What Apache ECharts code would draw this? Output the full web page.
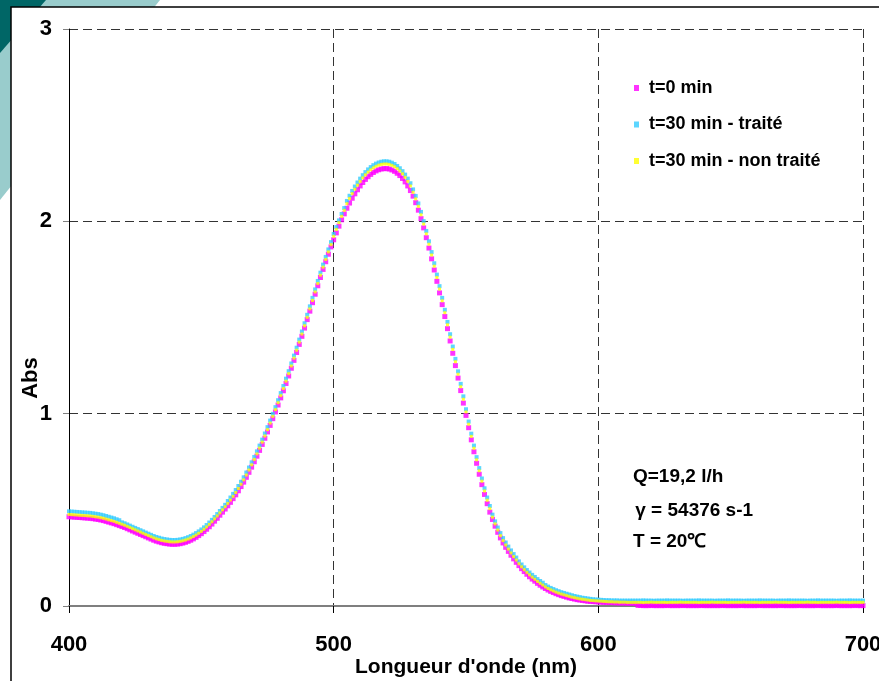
<!DOCTYPE html>
<html>
<head>
<meta charset="utf-8">
<title>Abs - Longueur d'onde</title>
<script src="https://cdn.jsdelivr.net/npm/echarts@6/dist/echarts.min.js"></script>
<style>
  html, body { margin: 0; padding: 0; background: #fff; }
  #spectre { width: 879px; height: 681px; }
</style>
</head>
<body>
<div id="spectre"></div>
<script>
// ---- data (1 nm step from 400 nm) ----
var lambdaStart = 400;
var serieNames = ['t=0 min', 't=30 min - traité', 't=30 min - non traité'];
var notes = ['Q=19,2 l/h', ' γ = 54376 s-1', 'T = 20℃'];

var absT0 = [
  // 400
  0.464,0.463,0.462,0.461,0.460,0.459,0.458,0.457,0.456,0.454,
  // 410
  0.452,0.450,0.447,0.444,0.440,0.436,0.432,0.428,0.423,0.418,
  // 420
  0.413,0.408,0.402,0.396,0.390,0.384,0.378,0.372,0.366,0.360,
  // 430
  0.354,0.348,0.342,0.337,0.333,0.329,0.326,0.324,0.322,0.321,
  // 440
  0.321,0.322,0.324,0.327,0.331,0.336,0.342,0.349,0.357,0.366,
  // 450
  0.376,0.387,0.399,0.412,0.426,0.441,0.456,0.472,0.488,0.504,
  // 460
  0.521,0.539,0.558,0.578,0.599,0.621,0.644,0.669,0.695,0.722,
  // 470
  0.750,0.779,0.809,0.840,0.872,0.905,0.939,0.974,1.009,1.045,
  // 480
  1.082,1.119,1.157,1.196,1.236,1.277,1.318,1.360,1.402,1.445,
  // 490
  1.489,1.533,1.577,1.621,1.665,1.708,1.750,1.790,1.829,1.867,
  // 500
  1.904,1.940,1.975,2.008,2.039,2.068,2.095,2.120,2.143,2.164,
  // 510
  2.184,2.202,2.218,2.232,2.244,2.254,2.262,2.268,2.272,2.274,
  // 520
  2.274,2.272,2.267,2.260,2.250,2.238,2.223,2.205,2.184,2.160,
  // 530
  2.131,2.097,2.058,2.014,1.966,1.915,1.861,1.805,1.747,1.688,
  // 540
  1.628,1.567,1.505,1.442,1.378,1.314,1.250,1.185,1.120,1.055,
  // 550
  0.991,0.927,0.864,0.802,0.742,0.685,0.631,0.580,0.532,0.488,
  // 560
  0.450,0.415,0.383,0.354,0.328,0.305,0.284,0.264,0.245,0.227,
  // 570
  0.210,0.194,0.179,0.165,0.152,0.140,0.129,0.118,0.108,0.099,
  // 580
  0.091,0.083,0.076,0.070,0.064,0.059,0.054,0.050,0.046,0.042,
  // 590
  0.039,0.036,0.033,0.031,0.029,0.027,0.025,0.024,0.023,0.022,
  // 600
  0.021,0.020,0.019,0.019,0.018,0.018,0.017,0.017,0.016,0.016,
  // 610-614
  0.016,0.015,0.015,0.015,0.014,
  // 615
  0.003,0.003,0.002,0.002,0.002,0.003,0.002,0.002,0.002,0.002,
  0.002,0.003,0.002,0.002,0.002,0.002,0.002,0.003,0.002,0.002,
  0.002,0.002,0.002,0.002,0.003,0.002,0.002,0.002,0.002,0.002,
  0.002,0.002,0.003,0.002,0.002,0.002,0.002,0.002,0.002,0.003,
  0.002,0.002,0.002,0.002,0.002,0.002,0.003,0.002,0.002,0.002,
  0.002,0.002,0.002,0.002,0.003,0.002,0.002,0.002,0.002,0.002,
  0.002,0.003,0.002,0.002,0.002,0.002,0.002,0.002,0.003,0.002,
  0.002,0.002,0.002,0.002,0.002,0.003,0.002,0.002,0.002,0.002,
  0.002,0.002,0.003,0.002,0.002,0.002
];

var absTraite = [
  // 400
  0.492,0.491,0.490,0.489,0.488,0.487,0.486,0.485,0.484,0.482,
  // 410
  0.480,0.478,0.475,0.472,0.468,0.464,0.460,0.456,0.451,0.446,
  // 420
  0.435,0.430,0.424,0.418,0.412,0.406,0.400,0.394,0.388,0.382,
  // 430
  0.376,0.370,0.364,0.359,0.355,0.351,0.348,0.346,0.344,0.343,
  // 440
  0.343,0.344,0.346,0.349,0.353,0.358,0.364,0.371,0.379,0.388,
  // 450
  0.398,0.409,0.421,0.434,0.448,0.463,0.478,0.494,0.510,0.526,
  // 460
  0.546,0.564,0.583,0.603,0.624,0.646,0.669,0.694,0.720,0.747,
  // 470
  0.775,0.804,0.834,0.865,0.897,0.930,0.964,0.999,1.034,1.070,
  // 480
  1.107,1.144,1.182,1.221,1.261,1.302,1.343,1.385,1.427,1.470,
  // 490
  1.514,1.558,1.602,1.646,1.690,1.733,1.775,1.815,1.854,1.892,
  // 500
  1.934,1.970,2.005,2.038,2.069,2.106,2.133,2.158,2.181,2.202,
  // 510
  2.222,2.240,2.256,2.270,2.282,2.292,2.300,2.306,2.310,2.312,
  // 520
  2.312,2.310,2.305,2.298,2.288,2.276,2.261,2.243,2.222,2.198,
  // 530
  2.166,2.132,2.093,2.049,2.001,1.950,1.896,1.840,1.782,1.723,
  // 540
  1.663,1.602,1.540,1.477,1.413,1.349,1.285,1.220,1.155,1.090,
  // 550
  1.023,0.959,0.896,0.834,0.774,0.717,0.663,0.612,0.564,0.520,
  // 560
  0.475,0.440,0.408,0.379,0.353,0.330,0.309,0.289,0.270,0.252,
  // 570
  0.232,0.216,0.201,0.187,0.174,0.162,0.151,0.140,0.130,0.121,
  // 580
  0.109,0.101,0.094,0.088,0.082,0.077,0.072,0.068,0.064,0.060,
  // 590
  0.056,0.052,0.049,0.046,0.043,0.041,0.039,0.037,0.035,0.034,
  // 600
  0.033,0.032,0.031,0.030,0.030,0.029,0.029,0.029,0.028,0.028,
  // 610-614
  0.028,0.028,0.028,0.028,0.028,
  // 615
  0.028,0.028,0.029,0.028,0.028,0.028,0.027,0.028,0.028,0.028,
  0.028,0.029,0.028,0.028,0.028,0.028,0.028,0.027,0.028,0.028,
  0.028,0.028,0.028,0.029,0.028,0.028,0.028,0.028,0.028,0.027,
  0.028,0.028,0.028,0.028,0.029,0.028,0.028,0.028,0.028,0.028,
  0.027,0.028,0.028,0.028,0.028,0.028,0.029,0.028,0.028,0.028,
  0.028,0.028,0.027,0.028,0.028,0.028,0.028,0.029,0.028,0.028,
  0.028,0.028,0.028,0.028,0.027,0.028,0.028,0.028,0.029,0.028,
  0.028,0.028,0.028,0.028,0.028,0.027,0.028,0.028,0.028,0.028,
  0.029,0.028,0.028,0.028,0.028,0.028
];

var absNonTraite = [
  // 400
  0.476,0.475,0.474,0.473,0.472,0.471,0.470,0.469,0.468,0.466,
  // 410
  0.464,0.462,0.459,0.456,0.452,0.448,0.444,0.440,0.435,0.430,
  // 420
  0.425,0.420,0.414,0.408,0.402,0.396,0.390,0.384,0.378,0.372,
  // 430
  0.366,0.360,0.354,0.349,0.345,0.341,0.338,0.336,0.334,0.333,
  // 440
  0.333,0.334,0.336,0.339,0.343,0.348,0.354,0.361,0.369,0.378,
  // 450
  0.388,0.399,0.411,0.424,0.438,0.453,0.468,0.484,0.500,0.516,
  // 460
  0.533,0.551,0.570,0.590,0.611,0.633,0.656,0.681,0.707,0.734,
  // 470
  0.762,0.791,0.821,0.852,0.884,0.917,0.951,0.986,1.021,1.057,
  // 480
  1.094,1.131,1.169,1.208,1.248,1.289,1.330,1.372,1.414,1.457,
  // 490
  1.501,1.545,1.589,1.633,1.677,1.720,1.762,1.802,1.841,1.879,
  // 500
  1.922,1.958,1.993,2.026,2.057,2.092,2.119,2.144,2.167,2.188,
  // 510
  2.208,2.226,2.242,2.256,2.268,2.278,2.286,2.292,2.296,2.298,
  // 520
  2.298,2.296,2.291,2.284,2.274,2.262,2.247,2.229,2.208,2.184,
  // 530
  2.151,2.117,2.078,2.034,1.986,1.935,1.881,1.825,1.767,1.708,
  // 540
  1.648,1.587,1.525,1.462,1.398,1.334,1.270,1.205,1.140,1.075,
  // 550
  1.009,0.945,0.882,0.820,0.760,0.703,0.649,0.598,0.550,0.506,
  // 560
  0.462,0.427,0.395,0.366,0.340,0.317,0.296,0.276,0.257,0.239,
  // 570
  0.220,0.204,0.189,0.175,0.162,0.150,0.139,0.128,0.118,0.109,
  // 580
  0.099,0.091,0.084,0.078,0.072,0.067,0.062,0.058,0.054,0.050,
  // 590
  0.046,0.043,0.040,0.037,0.035,0.033,0.031,0.029,0.028,0.027,
  // 600
  0.026,0.025,0.024,0.023,0.022,0.022,0.021,0.021,0.020,0.020,
  // 610-614
  0.020,0.019,0.019,0.019,0.019,
  // 615
  0.019,0.019,0.018,0.019,0.019,0.020,0.019,0.019,0.019,0.019,
  0.019,0.018,0.019,0.019,0.019,0.019,0.020,0.019,0.019,0.019,
  0.019,0.019,0.019,0.018,0.019,0.019,0.019,0.019,0.020,0.019,
  0.019,0.019,0.019,0.019,0.018,0.019,0.019,0.019,0.019,0.019,
  0.020,0.019,0.019,0.019,0.019,0.019,0.018,0.019,0.019,0.019,
  0.019,0.019,0.020,0.019,0.019,0.019,0.019,0.018,0.019,0.019,
  0.019,0.019,0.019,0.019,0.020,0.019,0.019,0.019,0.018,0.019,
  0.019,0.019,0.019,0.019,0.019,0.020,0.019,0.019,0.019,0.019,
  0.018,0.019,0.019,0.019,0.019,0.019
];

var serieColors = ['#ff00ff', '#33ccff', '#ffff00'];

var fontFam = '"Liberation Sans", Arial, sans-serif';

function toPoints(values) {
    return values.map(function (v, i) {
        return [lambdaStart + i, v];
    });
}

var chart = echarts.init(document.getElementById('spectre'));

chart.setOption({
    animation: false,
    textStyle: {
        fontFamily: fontFam,
        fontWeight: 'bold',
        color: '#000'
    },

    // slide background: teal corner + framed white panel
    graphic: [
        { type: 'polygon', z: -10, shape: { points: [[0, 0], [160, 0], [0, 200]] }, style: { fill: '#99cccc' } },
        { type: 'polygon', z: -9, shape: { points: [[0, 0], [46, 0], [0, 53]] }, style: { fill: '#006666' } },
        { type: 'rect', z: -8, shape: { x: 11, y: 7, width: 880, height: 690 }, style: { fill: '#fff', stroke: '#000', lineWidth: 1.5 } },
        {
            type: 'text', x: 31, y: 378, rotation: Math.PI / 2,
            style: { text: 'Abs', fontSize: 22, fontWeight: 'bold', fontFamily: fontFam, fill: '#000', align: 'center', verticalAlign: 'middle' }
        },
        { type: 'text', x: 633, y: 477, style: { text: notes[0], fontSize: 19, fontWeight: 'bold', fontFamily: fontFam, fill: '#000', verticalAlign: 'middle' } },
        { type: 'text', x: 630, y: 511, style: { text: notes[1], fontSize: 19, fontWeight: 'bold', fontFamily: fontFam, fill: '#000', verticalAlign: 'middle' } },
        { type: 'text', x: 633, y: 542, style: { text: notes[2], fontSize: 19, fontWeight: 'bold', fontFamily: fontFam, fill: '#000', verticalAlign: 'middle' } }
    ],

    grid: {
        left: 69,
        right: 16,
        top: 29,
        bottom: 75,
        outerBoundsMode: 'none'
    },

    legend: {
        orient: 'vertical',
        left: 629,
        top: 74,
        itemWidth: 5,
        itemHeight: 6,
        itemGap: 18.5,
        icon: 'rect',
        data: serieNames,
        textStyle: {
            fontSize: 18,
            fontWeight: 'bold',
            fontFamily: fontFam,
            color: '#000',
            padding: [0, 0, 0, 5]
        }
    },

    xAxis: {
        type: 'value',
        min: 400,
        max: 700,
        interval: 100,
        name: "Longueur d'onde (nm)",
        nameLocation: 'middle',
        nameGap: 51,
        nameMoveOverlap: false,
        nameTextStyle: { fontSize: 21, fontWeight: 'bold', fontFamily: fontFam, color: '#000' },
        axisLine: { lineStyle: { color: '#7f7f7f', width: 2 } },
        axisTick: { show: true, length: 7, lineStyle: { color: '#000' } },
        axisLabel: { fontSize: 22, fontWeight: 'bold', color: '#000', margin: 28 },
        splitLine: { show: true, lineStyle: { color: '#333', type: [9, 5] } }
    },

    yAxis: {
        type: 'value',
        min: 0,
        max: 3,
        interval: 1,
        axisLine: { show: true, lineStyle: { color: '#000', width: 1 } },
        axisTick: { show: true, length: 6, lineStyle: { color: '#7f7f7f' } },
        axisLabel: { fontSize: 22, fontWeight: 'bold', color: '#000', margin: 17 },
        splitLine: { show: true, lineStyle: { color: '#333', type: [9, 5] } }
    },

    series: [
        {
            name: serieNames[0], type: 'scatter', symbol: 'rect', symbolSize: 5,
            itemStyle: { color: serieColors[0] }, data: toPoints(absT0)
        },
        {
            name: serieNames[1], type: 'scatter', symbol: 'rect', symbolSize: 4,
            itemStyle: { color: serieColors[1] }, data: toPoints(absTraite)
        },
        {
            name: serieNames[2], type: 'scatter', symbol: 'rect', symbolSize: 3,
            itemStyle: { color: serieColors[2] }, data: toPoints(absNonTraite)
        }
    ]
});
</script>
</body>
</html>
